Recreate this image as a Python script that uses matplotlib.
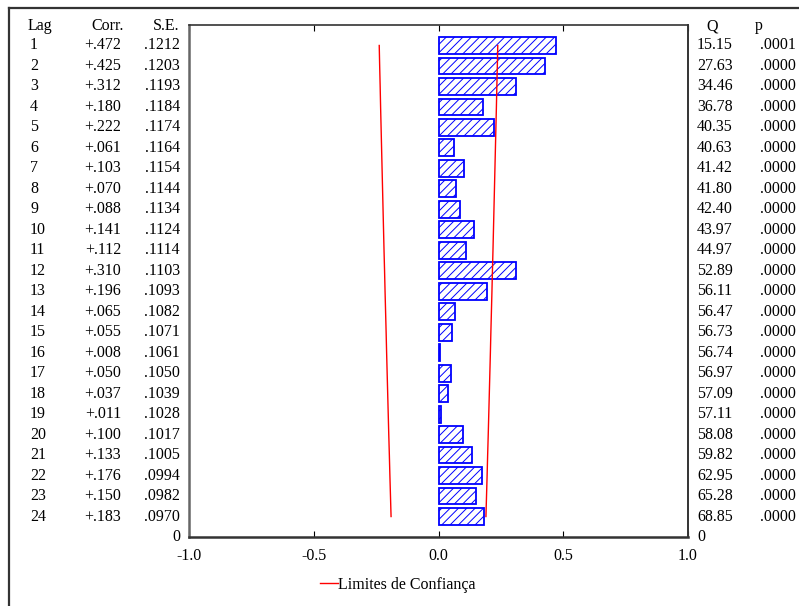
import numpy as np
import matplotlib
matplotlib.use("Agg")
import matplotlib.pyplot as plt
from matplotlib.transforms import blended_transform_factory
from matplotlib.ticker import FuncFormatter

plt.rcParams['font.family'] = ['Liberation Serif', 'DejaVu Serif']
plt.rcParams['hatch.linewidth'] = 0.7

lags = list(range(1, 25))
corr = [0.472, 0.425, 0.312, 0.180, 0.222, 0.061, 0.103, 0.070, 0.088, 0.141, 0.112, 0.310,
        0.196, 0.065, 0.055, 0.008, 0.050, 0.037, 0.011, 0.100, 0.133, 0.176, 0.150, 0.183]
se = [0.1212, 0.1203, 0.1193, 0.1184, 0.1174, 0.1164, 0.1154, 0.1144, 0.1134, 0.1124, 0.1114, 0.1103,
      0.1093, 0.1082, 0.1071, 0.1061, 0.1050, 0.1039, 0.1028, 0.1017, 0.1005, 0.0994, 0.0982, 0.0970]
q_stat = [15.15, 27.63, 34.46, 36.78, 40.35, 40.63, 41.42, 41.80, 42.40, 43.97, 44.97, 52.89,
          56.11, 56.47, 56.73, 56.74, 56.97, 57.09, 57.11, 58.08, 59.82, 62.95, 65.28, 68.85]
p_val = ['.0001', '.0000', '.0000', '.0000', '.0000', '.0000', '.0000', '.0000', '.0000', '.0000',
         '.0000', '.0000', '.0000', '.0000', '.0000', '.0000', '.0000', '.0000', '.0000', '.0000',
         '.0000', '.0000', '.0000', '.0000']

W, H = 799, 606
fig = plt.figure(figsize=(W / 100, H / 100), dpi=100)
ax = fig.add_axes([189 / W, 1 - 537 / H, (688 - 189) / W, (537 - 25) / H])

ypos = [25 - k for k in lags]
lim = 1.96 * np.array(se)

ax.barh(ypos, corr, height=0.82, color='white', edgecolor='blue', hatch='////', linewidth=1.3)
line, = ax.plot(lim, ypos, color='red', lw=1)
ax.plot(-lim, ypos, color='red', lw=1)

ax.set_xlim(-1, 1)
ax.set_ylim(0, 25)
ax.set_xticks([-1, -0.5, 0, 0.5, 1])
ax.xaxis.set_major_formatter(FuncFormatter(lambda v, _: f"{v:.1f}"))
ax.tick_params(axis='x', direction='in', top=True, length=4, labelsize=11.5, pad=8)
ax.set_yticks([])
for s in ax.spines.values():
    s.set_color('#333333')
ax.spines['left'].set_linewidth(1.8)
ax.spines['left'].set_color('#666666')
ax.spines['bottom'].set_linewidth(1.8)
ax.spines['right'].set_linewidth(1.4)
ax.spines['top'].set_linewidth(1.2)

# table columns beside the plot
tr = blended_transform_factory(fig.transFigure, ax.transData)
fs = 11.5
hy = 24.95
ax.text(28 / W, hy, 'Lag', transform=tr, ha='left', va='center', fontsize=fs)
ax.text(124 / W, hy, 'Corr.', transform=tr, ha='right', va='center', fontsize=fs)
ax.text(179 / W, hy, 'S.E.', transform=tr, ha='right', va='center', fontsize=fs)
ax.text(706 / W, hy, 'Q', transform=tr, ha='left', va='center', fontsize=fs)
ax.text(755 / W, hy, 'p', transform=tr, ha='left', va='center', fontsize=fs)
for k, y in zip(lags, ypos):
    i = k - 1
    ax.text(30 / W, y, str(k), transform=tr, ha='left', va='center', fontsize=fs)
    ax.text(121 / W, y, "+" + f"{corr[i]:.3f}"[1:], transform=tr, ha='right', va='center', fontsize=fs)
    ax.text(180 / W, y, f"{se[i]:.4f}"[1:], transform=tr, ha='right', va='center', fontsize=fs)
    ax.text(697 / W, y, f"{q_stat[i]:.2f}", transform=tr, ha='left', va='center', fontsize=fs)
    ax.text(796 / W, y, p_val[i], transform=tr, ha='right', va='center', fontsize=fs)
ax.text(180 / W, 0, '0', transform=tr, ha='right', va='center', fontsize=fs)
ax.text(697 / W, 0, '0', transform=tr, ha='left', va='center', fontsize=fs)

# outer frame (runs off the right and bottom edges)
fig.add_artist(plt.Line2D([9 / W, 1.01], [1 - 8 / H] * 2, transform=fig.transFigure, color='#333333', lw=1.6))
fig.add_artist(plt.Line2D([9 / W] * 2, [-0.01, 1 - 8 / H], transform=fig.transFigure, color='#333333', lw=1.6))

fig.legend([line], ['Limites de Confiança'], loc='center', bbox_to_anchor=(398 / W, 1 - 585 / H),
           frameon=False, fontsize=fs, handlelength=1.1, handletextpad=0.0)

fig.savefig('out.png', dpi=100)
